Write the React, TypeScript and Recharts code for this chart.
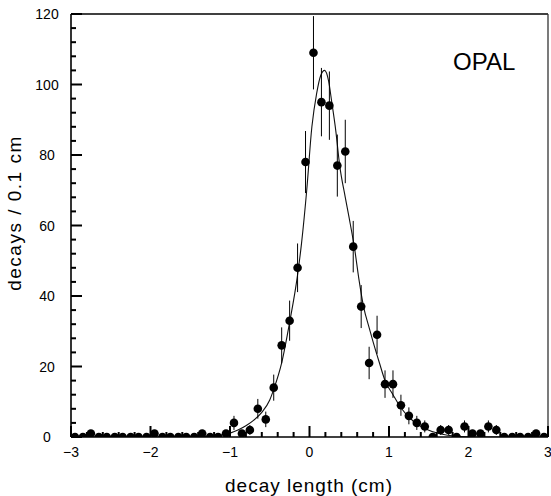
import { ComposedChart, Line, Scatter, ErrorBar, XAxis, YAxis, ReferenceLine } from "recharts";

// bin centres (cm), 0.1 cm bins
const binCentres = [
  -2.95, -2.85, -2.75, -2.65, -2.55, -2.45, -2.35, -2.25, -2.15, -2.05,
  -1.95, -1.85, -1.75, -1.65, -1.55, -1.45, -1.35, -1.25, -1.15, -1.05,
  -0.95, -0.85, -0.75, -0.65, -0.55, -0.45, -0.35, -0.25, -0.15, -0.05,
  0.05, 0.15, 0.25, 0.35, 0.45, 0.55, 0.65, 0.75, 0.85, 0.95,
  1.05, 1.15, 1.25, 1.35, 1.45, 1.55, 1.65, 1.75, 1.85, 1.95,
  2.05, 2.15, 2.25, 2.35, 2.45, 2.55, 2.65, 2.75, 2.85, 2.95,
];
const counts = [
  0, 0, 1, 0, 0, 0, 0, 0, 0, 0,
  1, 0, 0, 0, 0, 0, 1, 0, 0, 1,
  4, 1, 2, 8, 5, 14, 26, 33, 48, 78,
  109, 95, 94, 77, 81, 54, 37, 21, 29, 15,
  15, 9, 6, 4, 3, 0, 2, 2, 0, 3,
  1, 1, 3, 2, 0, 0, 0, 0, 1, 0,
];
const errors = [
  0, 0, 1, 0, 0, 0, 0, 0, 0, 0,
  1, 0, 0, 0, 0, 0, 1, 0, 0, 1,
  2, 1, 1.4, 2.8, 2.2, 3.7, 5.1, 5.7, 6.9, 8.8,
  10.4, 9.7, 9.7, 8.8, 9, 7.3, 6.1, 4.6, 5.4, 3.9,
  3.9, 3, 2.4, 2, 1.7, 0, 1.4, 1.4, 0, 1.7,
  1, 1, 1.7, 1.4, 0, 0, 0, 0, 1, 0,
];

// fitted curve
const fitX = [
  -3, -1.6, -1.3, -1.1, -1.0, -0.9, -0.8, -0.7, -0.6, -0.5, -0.45, -0.35, -0.25, -0.15, -0.1,
  -0.035, 0.03, 0.09, 0.14, 0.19, 0.24, 0.28, 0.33, 0.38, 0.45, 0.5, 0.57, 0.62, 0.68, 0.75,
  0.8, 0.88, 0.95, 1.05, 1.14, 1.31, 1.47, 1.64, 1.85, 2.1, 3,
];
const fitY = [
  0, 0, 0.1, 0.6, 1.1, 2.0, 3.2, 4.8, 7, 10.5, 13.5, 21, 32.5, 46, 55,
  70, 88, 97.5, 102.5, 104, 101, 95, 87, 77, 68, 62, 53, 45, 37, 31,
  27, 21, 16, 12, 8.6, 4.4, 2.2, 0.9, 0.2, 0, 0,
];

const yTicks = [0, 4, 8, 12, 16, 20, 24, 28, 32, 36, 40, 44, 48, 52, 56, 60, 64, 68, 72, 76, 80, 84, 88, 92, 96, 100, 104, 108, 112, 116, 120];
const xTicks = [-3, -2.8, -2.6, -2.4, -2.2, -2, -1.8, -1.6, -1.4, -1.2, -1, -0.8, -0.6, -0.4, -0.2, 0, 0.2, 0.4, 0.6, 0.8, 1, 1.2, 1.4, 1.6, 1.8, 2, 2.2, 2.4, 2.6, 2.8, 3];

const points = binCentres.map((x, i) => ({ x, y: counts[i], err: errors[i] }));
const fit = fitX.map((x, i) => ({ x, y: fitY[i] }));

const font = "'Liberation Sans', Arial, sans-serif";

// tick marks point into the plot: 10px on labelled ticks, 5px otherwise
function YTick(props: any) {
  const x = Number(props.x);
  const y = Number(props.y);
  const v = props.payload.value;
  const major = v % 20 === 0;
  return (
    <g>
      <rect x={x} y={y - 1} width={major ? 11 : 5} height={2} fill="#000" />
      {major && (
        <text x={x - 24} y={y} textAnchor="middle" dominantBaseline="central" fontSize={14} fontFamily={font} fill="#000">
          {v}
        </text>
      )}
    </g>
  );
}

function XTick(props: any) {
  const x = Number(props.x);
  const y = Number(props.y);
  const v = Math.round(props.payload.value * 10) / 10;
  const major = Number.isInteger(v);
  const len = major ? 11 : 5;
  return (
    <g>
      <rect x={x - 1} y={y - len} width={2} height={len} fill="#000" />
      {major && (
        <text x={x} y={y + 15} textAnchor="middle" dominantBaseline="central" fontSize={14} fontFamily={font} fill="#000">
          {v < 0 ? "\u2212" + Math.abs(v) : String(v)}
        </text>
      )}
    </g>
  );
}

const Dot = (props: any) => <circle cx={props.cx} cy={props.cy} r={4.3} fill="#000" />;

export default function App() {
  return (
    <div style={{ position: "absolute", left: 0, top: 0, width: 551, height: 496, background: "#fff", fontFamily: font }}>
      <ComposedChart width={551} height={496} margin={{ top: 14, right: 3, bottom: 0, left: 0 }}>
        <XAxis
          dataKey="x"
          type="number"
          domain={[-3, 3]}
          ticks={xTicks}
          interval={0}
          height={59}
          tickSize={0}
          tickMargin={0}
          tickLine={false}
          tick={XTick}
          axisLine={{ stroke: "#000", strokeWidth: 1.6 }}
          allowDataOverflow
        />
        <YAxis
          type="number"
          domain={[0, 120]}
          ticks={yTicks}
          interval={0}
          width={71}
          tickSize={0}
          tickMargin={0}
          tickLine={false}
          tick={YTick}
          axisLine={{ stroke: "#000", strokeWidth: 1.6 }}
          allowDataOverflow
        />
        <ReferenceLine y={120} stroke="#000" strokeWidth={1.4} />
        <ReferenceLine x={3} stroke="#333" strokeWidth={1.3} />
        <Line
          data={fit}
          dataKey="y"
          type="monotone"
          stroke="#111"
          strokeWidth={1.1}
          dot={false}
          activeDot={false}
          isAnimationActive={false}
        />
        <Scatter data={points} dataKey="y" shape={<Dot />} isAnimationActive={false}>
          <ErrorBar dataKey="err" direction="y" width={0} stroke="#000" strokeWidth={1} />
        </Scatter>
      </ComposedChart>
      <div style={{ position: "absolute", left: 453, top: 50, fontSize: 24, lineHeight: 1, color: "#000" }}>OPAL</div>
      <div
        style={{
          position: "absolute",
          left: 309,
          top: 486,
          transform: "translate(-50%, -50%)",
          fontSize: 19,
          letterSpacing: 1,
          whiteSpace: "nowrap",
          color: "#000",
        }}
      >
        decay length (cm)
      </div>
      <div
        style={{
          position: "absolute",
          left: 15,
          top: 213,
          transform: "translate(-50%, -50%) rotate(-90deg)",
          fontSize: 19,
          letterSpacing: 1.5,
          whiteSpace: "nowrap",
          color: "#000",
        }}
      >
        decays / 0.1 cm
      </div>
    </div>
  );
}
